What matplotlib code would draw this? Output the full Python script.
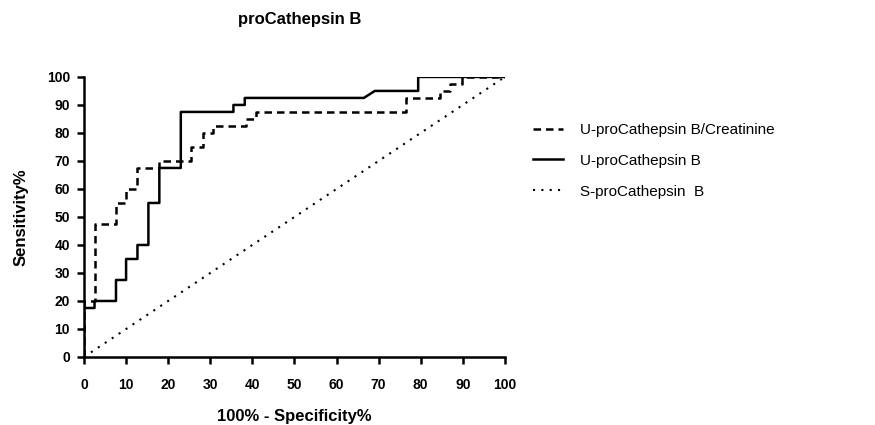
import matplotlib
matplotlib.use("Agg")
import matplotlib.pyplot as plt

plt.rcParams['font.family'] = ['Liberation Sans', 'DejaVu Sans']

# ROC curves (100% - specificity, sensitivity)
u_ratio_x = [0, 0, 2.5, 2.5, 7.5, 7.5, 10, 10, 12.7, 12.7, 17.9, 17.9, 25.4, 25.4,
             28.2, 28.2, 30.7, 30.7, 38.6, 38.6, 40.9, 40.9, 76.6, 76.6, 84.6, 84.6,
             87, 87, 89.7, 89.7, 100]
u_ratio_y = [0, 20, 20, 47.5, 47.5, 55, 55, 60, 60, 67.5, 67.5, 70, 70, 75,
             75, 80, 80, 82.5, 82.5, 85, 85, 87.5, 87.5, 92.5, 92.5, 95,
             95, 97.5, 97.5, 100, 100]

u_x = [0, 0, 2.5, 2.5, 7.6, 7.6, 10, 10, 12.7, 12.7, 15.3, 15.3, 17.9, 17.9,
       23, 23, 35.5, 35.5, 38.2, 38.2, 66.5, 69.1, 79.4, 79.4, 100]
u_y = [0, 17.5, 17.5, 20, 20, 27.5, 27.5, 35, 35, 40, 40, 55, 55, 67.5,
       67.5, 87.5, 87.5, 90, 90, 92.5, 92.5, 95, 95, 100, 100]

s_x = [0, 100]
s_y = [0, 100]

labels = ['U-proCathepsin B/Creatinine', 'U-proCathepsin B', 'S-proCathepsin  B']
ticks = list(range(0, 101, 10))

fig = plt.figure(figsize=(8.75, 4.25), dpi=100)
ax = fig.add_axes([0.096, 0.16, 0.481, 0.659])

ax.plot(u_ratio_x, u_ratio_y, color='black', lw=1.8, linestyle=(0, (3, 2)), label=labels[0])
ax.plot(u_x, u_y, color='black', lw=1.8, label=labels[1])
ax.plot(s_x, s_y, color='black', lw=1.5, linestyle=(0, (1, 3)), label=labels[2])

ax.set_xlim(0, 100)
ax.set_ylim(0, 100)
ax.set_xticks(ticks)
ax.set_yticks(ticks)
ax.tick_params(direction='out', length=5, width=1.8, labelsize=10)
ax.tick_params(axis='x', pad=10)
ax.tick_params(axis='y', pad=5)
for lab in ax.get_xticklabels() + ax.get_yticklabels():
    lab.set_fontweight('bold')
for side in ['top', 'right']:
    ax.spines[side].set_visible(False)
for side in ['left', 'bottom']:
    ax.spines[side].set_linewidth(1.8)

ax.set_xlabel('100% - Specificity%', fontsize=12, fontweight='bold', labelpad=12)
ax.set_ylabel('Sensitivity%', fontsize=12, fontweight='bold', labelpad=13)
fig.text(0.342, 0.953, 'proCathepsin B', ha='center', va='center',
         fontsize=12, fontweight='bold')

fig.legend(loc='upper left', bbox_to_anchor=(533 / 875, 1 - 123 / 425), frameon=False,
           fontsize=11, handlelength=1.95, handletextpad=1.1, labelspacing=1.1,
           borderpad=0, borderaxespad=0)

fig.savefig('out.png', dpi=100)
